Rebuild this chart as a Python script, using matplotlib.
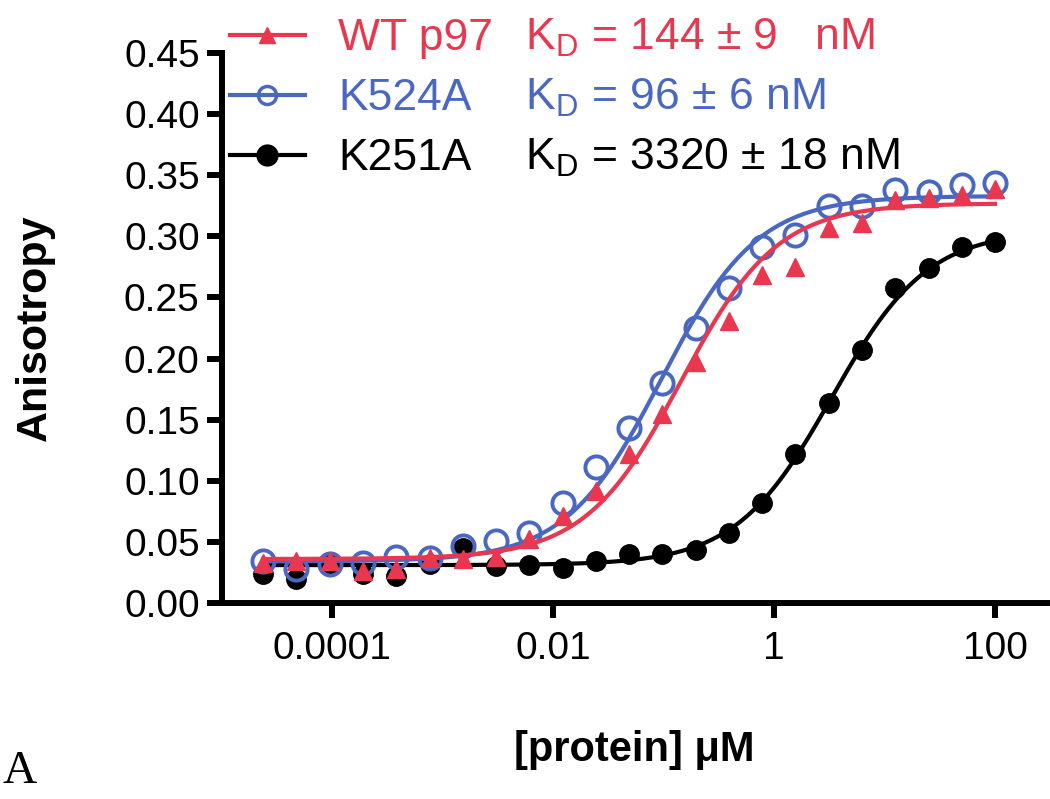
import numpy as np
import matplotlib
matplotlib.use("Agg")
import matplotlib.pyplot as plt
from matplotlib.lines import Line2D
from matplotlib.ticker import FixedLocator, FixedFormatter, NullLocator

plt.rcParams['font.family'] = ['Liberation Sans', 'DejaVu Sans']
plt.rcParams['mathtext.default'] = 'regular'

# protein concentration (uM), 2-fold dilution series
conc = [2.38e-5, 4.77e-5, 9.54e-5, 1.91e-4, 3.81e-4, 7.63e-4, 1.53e-3, 3.05e-3,
        6.10e-3, 0.0122, 0.0244, 0.0488, 0.0977, 0.195, 0.391, 0.781, 1.5625,
        3.125, 6.25, 12.5, 25, 50, 100]

wt_p97 = [0.033, 0.034, 0.034, 0.026, 0.028, 0.037, 0.036, 0.038, 0.052, 0.071,
          0.092, 0.122, 0.155, 0.197, 0.231, 0.268, 0.275, 0.307, 0.311, 0.330,
          0.331, 0.334, 0.339]
k524a = [0.034, 0.028, 0.032, 0.033, 0.038, 0.037, 0.047, 0.051, 0.057, 0.082,
         0.111, 0.143, 0.180, 0.225, 0.258, 0.291, 0.301, 0.325, 0.325, 0.338,
         0.336, 0.342, 0.344]
k251a = [0.024, 0.020, 0.032, 0.024, 0.022, 0.032, 0.045, 0.030, 0.031, 0.029,
         0.034, 0.040, 0.040, 0.043, 0.057, 0.082, 0.122, 0.164, 0.207, 0.258,
         0.274, 0.291, 0.295]

# fit parameters (bottom, top, KD in uM)
fit_wt = (0.036, 0.327, 0.144)
fit_k524a = (0.034, 0.333, 0.096)
fit_k251a = (0.031, 0.305, 3.32)

labels = ['WT p97', 'K524A', 'K251A']
kd_text = [r'K$_D$ = 144 ± 9   nM', r'K$_D$ = 96 ± 6 nM', r'K$_D$ = 3320 ± 18 nM']

red = '#e8374e'
blue = '#4a68c2'
black = '#000000'


def binding(x, p):
    bottom, top, kd = p
    return bottom + (top - bottom) * x / (kd + x)


fig = plt.figure(figsize=(10.5, 7.99), dpi=100)
ax = fig.add_axes([0.2114, 0.2453, 0.7857, 0.6884])

xs = np.logspace(np.log10(conc[0]), np.log10(conc[-1]), 300)

ax.plot(xs, binding(xs, fit_k251a), color=black, lw=3)
ax.plot(conc, k251a, 'o', color=black, ms=14, ls='none')
ax.plot(xs, binding(xs, fit_k524a), color=blue, lw=3)
ax.plot(conc, k524a, 'o', mfc='none', mec=blue, mew=2.8, ms=16, ls='none')
ax.plot(xs, binding(xs, fit_wt), color=red, lw=3)
ax.plot(conc, wt_p97, '^', color=red, ms=13, ls='none')

ax.set_xscale('log')
ax.set_xlim(1.01e-5, 295)
ax.set_ylim(0, 0.45)
ax.xaxis.set_major_locator(FixedLocator([1e-4, 1e-2, 1, 100]))
ax.xaxis.set_major_formatter(FixedFormatter(['0.0001', '0.01', '1', '100']))
ax.xaxis.set_minor_locator(NullLocator())
ax.set_yticks(np.arange(0, 0.451, 0.05))
ax.set_yticklabels(['%.2f' % v for v in np.arange(0, 0.451, 0.05)])

for s in ['top', 'right']:
    ax.spines[s].set_visible(False)
for s in ['left', 'bottom']:
    ax.spines[s].set_linewidth(4.3)
ax.tick_params(length=11, width=4.3, labelsize=28, pad=5)
ax.tick_params(axis='x', pad=9)

fig.text(35 / 1050, 1 - 328 / 799, 'Anisotropy', rotation=90, fontsize=31,
         fontweight='bold', ha='center', va='center')
fig.text(634 / 1050, 1 - 750 / 799, '[protein] μM', fontsize=30,
         fontweight='bold', ha='center', va='center')
fig.text(0.002, 0.008, 'A', fontsize=34, family='Liberation Serif',
         ha='left', va='bottom')

# legend drawn by hand above the axes
rows_y = [35, 95, 155]
styles = [dict(marker='^', color=red, ms=12),
          dict(marker='o', color=blue, mfc='none', mec=blue, mew=2.5, ms=13),
          dict(marker='o', color=black, ms=15)]
colors = [red, blue, black]
for y, st, lab, kd, c in zip(rows_y, styles, labels, kd_text, colors):
    fy = 1 - y / 799
    fig.add_artist(Line2D([230 / 1050, 267 / 1050, 305 / 1050], [fy, fy, fy],
                          transform=fig.transFigure, lw=3, markevery=[1], **st))
    fig.text(338 / 1050, 1 - (y + 15) / 799, lab, fontsize=32, color=c,
             ha='left', va='baseline')
    fig.text(525 / 1050, 1 - (y + 15) / 799, kd, fontsize=32, color=c,
             ha='left', va='baseline')

fig.savefig('out.png', dpi=100)
